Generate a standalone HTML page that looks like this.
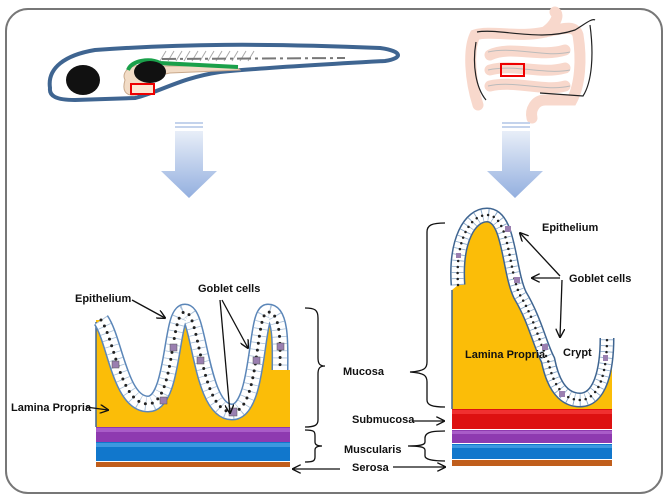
<!DOCTYPE html>
<html><head><meta charset="utf-8"><style>
html,body{margin:0;padding:0;background:#fff;width:669px;height:500px;overflow:hidden}
text{font-family:"Liberation Sans",sans-serif;font-weight:bold;font-size:11px;fill:#111}
</style></head><body>
<svg width="669" height="500" viewBox="0 0 669 500" xmlns="http://www.w3.org/2000/svg">
<defs>
<linearGradient id="ag" x1="0" y1="0" x2="0" y2="1"><stop offset="0" stop-color="#e8eef8"/><stop offset="1" stop-color="#93afdf"/></linearGradient>
<marker id="ar" viewBox="0 0 10 10" refX="9" refY="5" markerWidth="7" markerHeight="7" orient="auto-start-reverse"><path d="M0,0 L10,5 L0,10" fill="none" stroke="#111" stroke-width="1.5"/></marker>
</defs>
<rect x="6" y="9" width="656" height="484" rx="22" fill="#fff" stroke="#777" stroke-width="2"/>

<!-- fish -->
<path d="M50,88 C47,68 65,55 95,50 C180,44 260,43 380,48 C402,51 404,58 385,61 C330,64 260,68 220,72 C180,78 160,92 135,98 L75,100 C56,100 49,96 50,88 Z" fill="#fff" stroke="#3f6591" stroke-width="4"/>
<g stroke="#aaa" stroke-width="1"><path d="M160,61 l6,-10 M168,61 l6,-10 M176,61 l6,-10 M184,61 l6,-10 M192,61 l6,-10 M200,61 l6,-10 M208,61 l6,-10 M216,61 l6,-10 M224,61 l6,-10 M232,61 l6,-10 M240,61 l6,-10 M248,61 l6,-10"/></g>
<path d="M162,59 L345,58" stroke="#777" stroke-width="2" stroke-dasharray="14,4,3,4"/>
<path d="M125,80 C120,70 135,62 150,66 L235,66 L240,70 L170,73 C150,76 145,90 135,95 C125,96 122,90 125,80 Z" fill="#f2dcc6" stroke="#c9a98c" stroke-width="1"/>
<path d="M128,70 C132,60 150,58 160,63 L238,67" fill="none" stroke="#1aa04a" stroke-width="4"/>
<ellipse cx="83" cy="80" rx="17" ry="15" fill="#111"/>
<ellipse cx="150" cy="72" rx="16" ry="11" fill="#111"/>
<rect x="131" y="84" width="23" height="10" fill="#fde6d2" stroke="#e00" stroke-width="2"/>

<!-- intestine -->
<g fill="none" stroke="#f8d8cc" stroke-width="11" stroke-linecap="round">
<path d="M478,105 C470,80 468,50 475,35 C490,30 520,38 545,32 C555,25 560,15 555,12"/>
<path d="M545,32 C565,28 575,25 578,35 C582,60 580,85 572,100 L545,100 C535,100 530,110 532,118"/>
<path d="M490,55 C510,45 540,58 565,50 M490,70 C515,63 540,75 565,68 M490,86 C515,80 545,92 565,86"/>
</g>
<g fill="none" stroke="#222" stroke-width="1.2"><path d="M477,32 C500,28 540,42 575,30 C585,24 592,18 595,20 M476,42 C472,65 476,88 486,100 M590,25 C594,55 592,82 583,96 L540,93"/></g>
<g fill="none" stroke="#bbb" stroke-width="1"><path d="M488,52 C515,46 545,58 570,52 M488,70 C515,64 545,75 570,70 M488,86 C515,80 545,92 570,86"/></g>
<rect x="501" y="64" width="23" height="12" fill="none" stroke="#e00" stroke-width="2"/>

<!-- block arrows -->
<rect x="175" y="122" width="28" height="2" fill="#c4d3ec"/><rect x="175" y="126" width="28" height="2" fill="#c4d3ec"/>
<path d="M175,131 L203,131 L203,171 L217,171 L189,198 L161,171 L175,171 Z" fill="url(#ag)"/>
<rect x="502" y="122" width="28" height="2" fill="#c4d3ec"/><rect x="502" y="126" width="28" height="2" fill="#c4d3ec"/>
<path d="M502,131 L530,131 L530,171 L543,171 L515,198 L487,171 L502,171 Z" fill="url(#ag)"/>

<!-- left diagram -->
<path d="M96,320 L101,320 C115,340 120,404 148,404 C175,404 170,312 185,312 C200,312 200,412 232,412 C260,412 255,312 268,312 C282,312 280,350 280,370 L290,370 L290,427 L96,427 Z" fill="#fbbd08"/>
<line x1="96" y1="322" x2="96" y2="427" stroke="#3f6591" stroke-width="1.5"/>
<g fill="none" stroke-linecap="butt">
<path d="M101,320 C115,340 120,404 148,404 C175,404 170,312 185,312 C200,312 200,412 232,412 C260,412 255,312 268,312 C282,312 280,350 280,370" stroke="#5b86b8" stroke-width="17"/>
<path d="M101,320 C115,340 120,404 148,404 C175,404 170,312 185,312 C200,312 200,412 232,412 C260,412 255,312 268,312 C282,312 280,350 280,370" stroke="#fff" stroke-width="14"/>
<path d="M101,320 C115,340 120,404 148,404 C175,404 170,312 185,312 C200,312 200,412 232,412 C260,412 255,312 268,312 C282,312 280,350 280,370" stroke="#aac0d8" stroke-width="14" stroke-dasharray="0.8,6.2"/>
<path d="M101,320 C115,340 120,404 148,404 C175,404 170,312 185,312 C200,312 200,412 232,412 C260,412 255,312 268,312 C282,312 280,350 280,370" stroke="#222" stroke-width="3" stroke-linecap="round" stroke-dasharray="0,7"/>
</g>
<g fill="#9a7fb0" stroke="#555" stroke-width="0.5"><rect x="112" y="361" width="7" height="7"/><rect x="160" y="397" width="7" height="7"/><rect x="170" y="344" width="7" height="7"/><rect x="197" y="357" width="7" height="7"/><rect x="229" y="408" width="8" height="8"/><rect x="253" y="357" width="7" height="7"/><rect x="277" y="343" width="7" height="7"/></g>
<rect x="96" y="427" width="194" height="15" fill="#8e3ab0"/><rect x="96" y="428" width="194" height="4" fill="#a95cc8"/>
<rect x="96" y="442" width="194" height="19" fill="#1177cc"/><rect x="96" y="443" width="194" height="4" fill="#3d98e0"/>
<rect x="96" y="462" width="194" height="5" fill="#c05e1c"/>

<!-- right diagram -->
<path d="M452,290 L458,285 C455,240 470,215 487,215 C510,215 508,270 520,295 C535,320 540,345 548,360 C555,395 570,400 580,400 C600,400 607,370 607,338 L612,338 L612,409 L452,409 Z" fill="#fbbd08"/>
<line x1="452" y1="290" x2="452" y2="409" stroke="#3f6591" stroke-width="1.5"/>
<g fill="none">
<path d="M458,285 C455,240 470,215 487,215 C510,215 508,270 520,295 C535,320 540,345 548,360 C555,395 570,400 580,400 C600,400 607,370 607,338" stroke="#3f6591" stroke-width="15"/>
<path d="M458,285 C455,240 470,215 487,215 C510,215 508,270 520,295 C535,320 540,345 548,360 C555,395 570,400 580,400 C600,400 607,370 607,338" stroke="#fff" stroke-width="12"/>
<path d="M458,285 C455,240 470,215 487,215 C510,215 508,270 520,295 C535,320 540,345 548,360 C555,395 570,400 580,400 C600,400 607,370 607,338" stroke="#8aa8c8" stroke-width="12" stroke-dasharray="0.8,5.2"/>
<path d="M458,285 C455,240 470,215 487,215 C510,215 508,270 520,295 C535,320 540,345 548,360 C555,395 570,400 580,400 C600,400 607,370 607,338" stroke="#222" stroke-width="2.5" stroke-linecap="round" stroke-dasharray="0,6"/>
</g>
<g fill="#9a7fb0"><rect x="505" y="226" width="6" height="6"/><rect x="514" y="277" width="6" height="6"/><rect x="542" y="344" width="6" height="6"/><rect x="456" y="253" width="5" height="5"/><rect x="559" y="391" width="6" height="6"/><rect x="603" y="355" width="5" height="6"/></g>
<rect x="452" y="409" width="160" height="20" fill="#dd1111"/><rect x="452" y="410" width="160" height="4" fill="#f03030"/>
<rect x="452" y="430" width="160" height="13" fill="#8e3ab0"/><rect x="452" y="431" width="160" height="3" fill="#a95cc8"/>
<rect x="452" y="444" width="160" height="15" fill="#1177cc"/><rect x="452" y="445" width="160" height="3" fill="#3d98e0"/>
<rect x="452" y="460" width="160" height="6" fill="#c05e1c"/>

<!-- braces -->
<g fill="none" stroke="#111" stroke-width="1.3">
<path d="M305,308 C315,308 318,310 318,318 L318,358 C318,364 320,366 325,366 C320,366 318,368 318,374 L318,420 C318,425 315,427 305,427"/>
<path d="M305,430 C315,430 315,432 315,436 L315,442 C315,445 318,446 322,446 C318,446 315,447 315,450 L315,457 C315,461 313,462 305,462"/>
<path d="M445,223 C432,223 427,225 427,232 L427,362 C427,368 425,371 410,372 C425,373 427,376 427,382 L427,400 C427,405 432,407 445,407"/>
<path d="M445,431 C436,431 425,431 425,438 L425,442 C425,445 420,446 408,446 C420,446 425,447 425,450 L425,456 C425,460 436,461 445,461"/>
<line x1="340" y1="469" x2="293" y2="469" marker-end="url(#ar)"/>
<line x1="393" y1="467" x2="445" y2="467" marker-end="url(#ar)"/>
<line x1="412" y1="421" x2="444" y2="421" marker-end="url(#ar)"/>
<line x1="132" y1="300" x2="165" y2="318" marker-end="url(#ar)"/>
<line x1="220" y1="300" x2="230" y2="413" marker-end="url(#ar)"/>
<line x1="222" y1="300" x2="248" y2="348" marker-end="url(#ar)"/>
<line x1="86" y1="407" x2="108" y2="410" marker-end="url(#ar)"/>
<line x1="560" y1="276" x2="520" y2="233" marker-end="url(#ar)"/>
<line x1="560" y1="278" x2="532" y2="278" marker-end="url(#ar)"/>
<line x1="562" y1="280" x2="560" y2="337" marker-end="url(#ar)"/>
</g>

<!-- labels -->
<text x="75" y="302">Epithelium</text>
<text x="198" y="292">Goblet cells</text>
<text x="11" y="411">Lamina Propria</text>
<text x="343" y="375">Mucosa</text>
<text x="352" y="423">Submucosa</text>
<text x="344" y="453">Muscularis</text>
<text x="352" y="471">Serosa</text>
<text x="542" y="231">Epithelium</text>
<text x="569" y="282">Goblet cells</text>
<text x="465" y="358">Lamina Propria</text>
<text x="563" y="356">Crypt</text>
</svg>
</body></html>
